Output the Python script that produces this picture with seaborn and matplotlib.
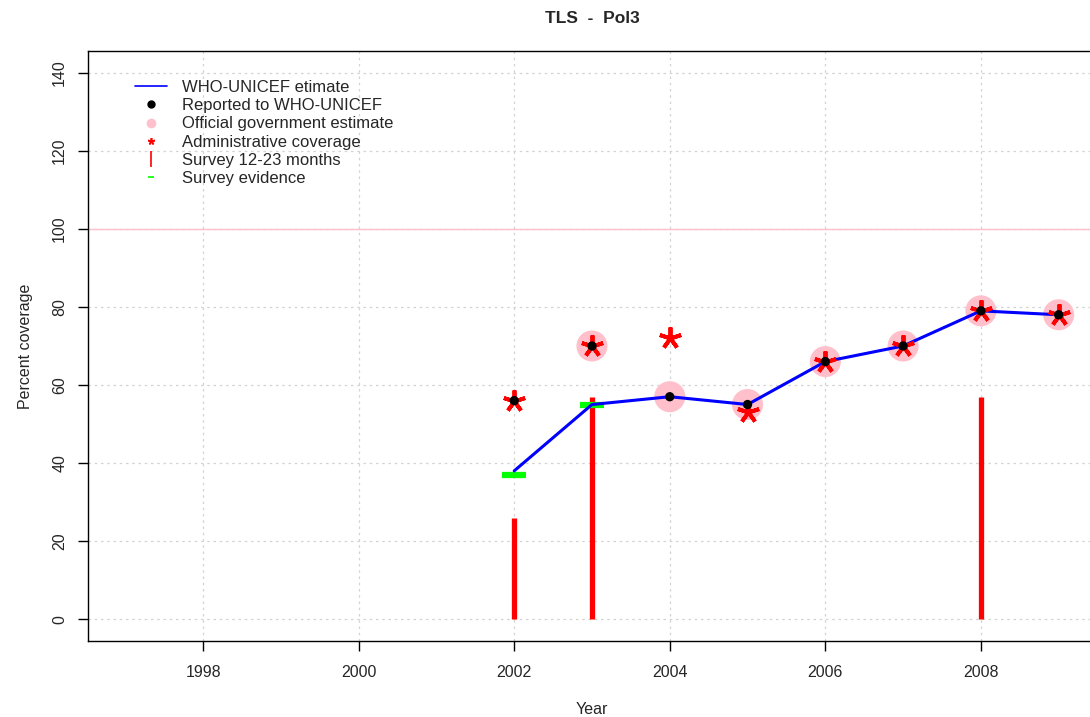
import matplotlib
matplotlib.use("Agg")
import matplotlib.pyplot as plt
from matplotlib import font_manager
from matplotlib.lines import Line2D
import seaborn as sns
import pandas as pd

# values
years = [2002, 2003, 2004, 2005, 2006, 2007, 2008, 2009]
wuenic = [38, 55, 57, 55, 66, 70, 79, 78]
reported = [56, 70, 57, 55, 66, 70, 79, 78]
gov_years = [2003, 2004, 2005, 2006, 2007, 2008, 2009]
gov_est = [70, 57, 55, 66, 70, 79, 78]
admin = [56, 70, 72, 53, 66, 70, 79, 78]
survey_years = [2002, 2003, 2008]
survey_1223 = [26, 57, 57]
evidence_years = [2002, 2003]
evidence = [37, 55]

x_ticks = [1998, 2000, 2002, 2004, 2006, 2008]
y_ticks = [0, 20, 40, 60, 80, 100, 120, 140]

sns.set_style("white")
plt.rcParams['font.family'] = ['Liberation Sans', 'DejaVu Sans']

names = {f.name for f in font_manager.fontManager.ttflist}
narrow = 'Liberation Sans Narrow' if 'Liberation Sans Narrow' in names else 'Liberation Sans'

fig = plt.figure(figsize=(10.9, 7.17), dpi=100)
ax = fig.add_axes([0.0807, 0.106, 0.9248, 0.8229])

ax.set_xlim(1996.52, 2009.48)
ax.set_ylim(-5.6, 145.6)

# dotted grid like R's grid()
for xv in x_ticks:
    ax.axvline(xv, color="lightgray", ls=(0, (2, 3)), lw=0.9, zorder=0)
for yv in y_ticks:
    ax.axhline(yv, color="lightgray", ls=(0, (2, 3)), lw=0.9, zorder=0)
ax.axhline(100, color="pink", lw=1.0, zorder=1)

ax.vlines(survey_years, 0, survey_1223, color="red", lw=3.8, zorder=2)

df_gov = pd.DataFrame({"year": gov_years, "value": gov_est})
sns.scatterplot(data=df_gov, x="year", y="value", ax=ax, color="pink",
                s=500, edgecolor="none", zorder=3, legend=False)

df = pd.DataFrame({"year": years, "wuenic": wuenic, "reported": reported, "admin": admin})
sns.lineplot(data=df, x="year", y="wuenic", ax=ax, color="blue", lw=2.2, zorder=4)
ax.plot(df["year"], df["admin"], ls="none", marker=(5, 2, 0), ms=16, mew=2.8,
        color="red", zorder=5)
sns.scatterplot(data=df, x="year", y="reported", ax=ax, color="black",
                s=45, edgecolor="none", zorder=6, legend=False)

df_ev = pd.DataFrame({"year": evidence_years, "value": evidence})
ax.plot(df_ev["year"], df_ev["value"], ls="none", marker="_", ms=17, mew=4.5,
        color="lime", zorder=3)

handles = [
    Line2D([], [], color="blue", lw=1.2),
    Line2D([], [], ls="none", marker="o", color="black", ms=5),
    Line2D([], [], ls="none", marker="o", color="pink", ms=6),
    Line2D([], [], ls="none", marker=(5, 2, 0), color="red", ms=5, mew=1.2),
    Line2D([], [], ls="none", marker="|", color="red", ms=12, mew=1.2),
    Line2D([], [], ls="none", marker="_", color="lime", ms=4, mew=1.2),
]
labels = ["WHO-UNICEF etimate", "Reported to WHO-UNICEF", "Official government estimate",
          "Administrative coverage", "Survey 12-23 months", "Survey evidence"]
ax.legend(handles, labels, loc="upper left", bbox_to_anchor=(0.04, 0.962),
          frameon=False, fontsize=12, handlelength=1.9, handletextpad=0.9,
          labelspacing=0.19, borderaxespad=0)

ax.set_xticks(x_ticks)
ax.set_yticks(y_ticks)
ax.set_xticklabels([str(v) for v in x_ticks], family=narrow, fontsize=11.5)
ax.set_yticklabels([str(v) for v in y_ticks], rotation=90, va="center",
                   family=narrow, fontsize=11.5)
ax.tick_params(axis="both", direction="out", length=7, width=1, color="black",
               bottom=True, left=True)
ax.tick_params(axis="x", pad=10)
ax.tick_params(axis="y", pad=8)
for sp in ax.spines.values():
    sp.set_color("black")
    sp.set_linewidth(1)

ax.set_xlabel("Year", fontsize=11.5, family=narrow, labelpad=16)
ax.set_ylabel("Percent coverage", fontsize=11.5, family=narrow, labelpad=14)
ax.set_title("TLS  -  Pol3", fontsize=12.5, fontweight="bold", pad=20)

fig.savefig("out.png", dpi=100)
